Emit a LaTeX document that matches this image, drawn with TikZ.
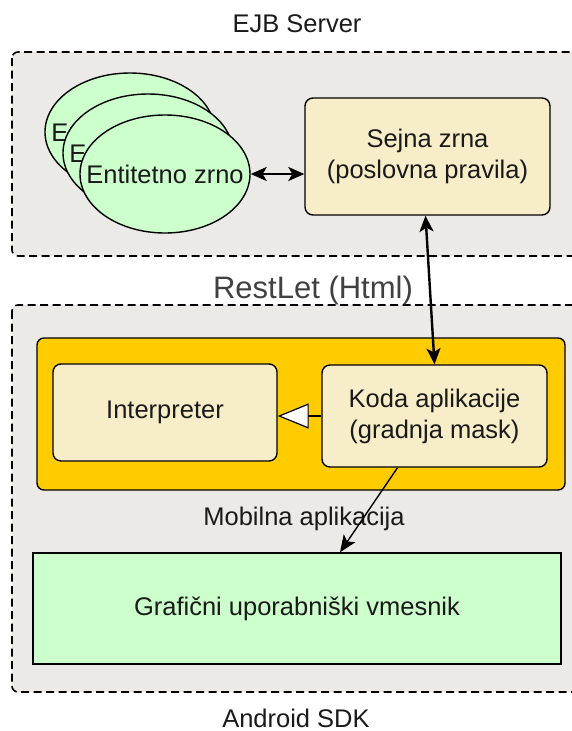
\documentclass[tikz,border=0pt]{standalone}
\usepackage{fontspec}
\setmainfont{Liberation Sans}
\usetikzlibrary{shapes.geometric,arrows.meta,backgrounds}

\definecolor{contgray}{HTML}{ECEAE6}
\definecolor{beancream}{HTML}{F7EDC8}
\definecolor{appyellow}{HTML}{FFCC00}
\definecolor{palegreen}{HTML}{CCFFCC}
\definecolor{txtgray}{HTML}{1A1A1A}

\begin{document}
\begin{tikzpicture}[x=1pt,y=-1pt,
    font=\fontsize{25.5}{31}\selectfont, text=txtgray,
    container/.style={draw, dashed, dash pattern=on 8pt off 4.5pt, line width=1.6pt, fill=contgray, rounded corners=6pt},
    bean/.style={draw, line width=1.4pt, fill=palegreen, ellipse, minimum width=170pt, minimum height=118pt, inner sep=0pt},
    card/.style={draw, line width=1.4pt, fill=beancream, rounded corners=8pt, align=center},
    dblarr/.style={{Stealth[length=16pt,width=14pt,inset=4pt]}-{Stealth[length=16pt,width=14pt,inset=4pt]}, line width=2.4pt},
    label/.style={inner sep=0pt}
    ]
    \useasboundingbox (0,0) rectangle (572,731);

    % containers
    \draw[container] (12,52) rectangle (600,256);
    \draw[container] (12,305) rectangle (600,692);

    \node[label] (ejb) at (297,24) {EJB Server};
    \node[label, font=\fontsize{31}{35}\selectfont, text=black!75] (restlet) at (313,290) {RestLet (Html)};
    \node[label] (mobilna) at (304,519) {Mobilna aplikacija};
    \node[label] (android) at (296,718) {Android SDK};

    % entity beans, back to front
    \node[bean] (beanc) at (130,132) {};
    \node[label] at (beanc) {Entitetno zrno};
    \node[bean] (beanb) at (148,153) {};
    \node[label] at (beanb) {Entitetno zrno};
    \node[bean] (beana) at (165,174) {};
    \node[label] at (beana) {Entitetno zrno};

    \node[card, minimum width=245pt, minimum height=117pt] (sejna) at (427.5,156.5) {Sejna zrna\\(poslovna pravila)};

    % mobile application
    \draw[line width=1.4pt, fill=appyellow, rounded corners=7pt] (37,338) rectangle (565,490);
    \node[card, minimum width=224pt, minimum height=97pt] (interp) at (165,412.5) {Interpreter};
    \node[card, minimum width=225pt, minimum height=102pt] (koda) at (434.5,416) {Koda aplikacije\\(gradnja mask)};

    \node[draw, line width=1.4pt, fill=palegreen, minimum width=528pt, minimum height=111pt] (gui) at (297,608.5) {Grafični uporabniški vmesnik};

    \draw[dblarr] (beana.east) -- (beana.east -| sejna.west);
    \draw[dblarr] ([xshift=-2pt]sejna.south) -- (koda.north);
    \draw[line width=1.2pt, -{Triangle[length=31pt,width=25pt,fill=white]}] (koda.west) -- (koda.west -| interp.east);
    \draw[line width=1.4pt, -{Stealth[length=17pt,width=14pt,inset=4pt]}] ([xshift=-37pt]koda.south) -- ([xshift=43pt]gui.north);
\end{tikzpicture}
\end{document}
